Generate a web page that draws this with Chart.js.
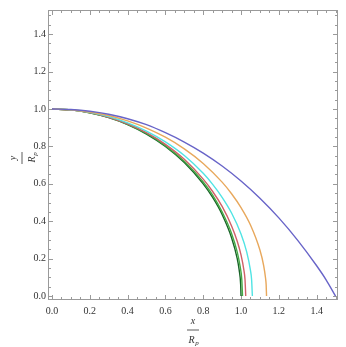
<!DOCTYPE html>
<html>
<head>
<meta charset="utf-8">
<script src="https://cdn.jsdelivr.net/npm/chart.js@4/dist/chart.umd.min.js"></script>
<style>
  html, body { margin: 0; padding: 0; background: #fff; }
</style>
</head>
<body>
<canvas id="shapeChart" width="346" height="347"></canvas>
<script>
// tick labels
const xTicks = [0, 0.2, 0.4, 0.6, 0.8, 1.0, 1.2, 1.4];
const yTicks = [0, 0.2, 0.4, 0.6, 0.8, 1.0, 1.2, 1.4];

// curves (x / Rp, y / Rp)
const xDarkGreen = [0, 0.1, 0.2, 0.3, 0.4, 0.5, 0.6, 0.7, 0.8, 0.85, 0.9, 0.95, 0.98, 0.99, 0.998, 1.0];
const yDarkGreen = [1, 0.995, 0.98, 0.954, 0.917, 0.866, 0.8, 0.714, 0.6, 0.527, 0.436, 0.312, 0.2, 0.141, 0.063, 0];

const xGreen = [0, 0.1, 0.2, 0.3, 0.4, 0.5, 0.6, 0.7, 0.8, 0.85, 0.9, 0.95, 0.98, 0.995, 1.004, 1.008];
const yGreen = [1, 0.995, 0.98, 0.955, 0.918, 0.869, 0.804, 0.72, 0.61, 0.54, 0.45, 0.335, 0.235, 0.16, 0.089, 0];

const xRed = [0, 0.1, 0.2, 0.3, 0.4, 0.5, 0.6, 0.7, 0.8, 0.85, 0.9, 0.95, 0.98, 1.0, 1.015, 1.021, 1.025];
const yRed = [1, 0.995, 0.981, 0.956, 0.921, 0.873, 0.811, 0.731, 0.625, 0.559, 0.479, 0.375, 0.293, 0.22, 0.14, 0.09, 0];

const xCyan = [0, 0.1, 0.2, 0.3, 0.4, 0.5, 0.6, 0.7, 0.8, 0.85, 0.9, 0.95, 1.0, 1.03, 1.05, 1.056, 1.06];
const yCyan = [1, 0.996, 0.982, 0.959, 0.926, 0.882, 0.824, 0.751, 0.656, 0.597, 0.528, 0.444, 0.332, 0.236, 0.137, 0.087, 0];

const xOrange = [0, 0.1, 0.2, 0.3, 0.4, 0.5, 0.6, 0.7, 0.8, 0.9, 0.95, 1.0, 1.05, 1.1, 1.12, 1.13, 1.133, 1.135];
const yOrange = [1, 0.996, 0.984, 0.965, 0.936, 0.898, 0.849, 0.787, 0.709, 0.609, 0.547, 0.473, 0.38, 0.246, 0.162, 0.094, 0.06, 0];

const xBlue = [0, 0.1, 0.2, 0.3, 0.4, 0.5, 0.6, 0.7, 0.8, 0.9, 1.0, 1.1, 1.2, 1.3, 1.4, 1.45, 1.5];
const yBlue = [1, 0.997, 0.988, 0.972, 0.948, 0.916, 0.873, 0.823, 0.764, 0.695, 0.615, 0.523, 0.418, 0.298, 0.162, 0.087, 0];

const toPoints = (xs, ys) => xs.map((v, i) => ({ x: v, y: ys[i] }));

const curve = (xs, ys, color) => ({
    data: toPoints(xs, ys),
    borderColor: color,
    borderWidth: 1.4,
    pointRadius: 0,
    showLine: true,
    fill: false,
    cubicInterpolationMode: 'monotone'
});

// frame with inward ticks on all four sides, like the original
const framePlugin = {
    id: 'frame',
    beforeDatasetsDraw(chart) {
        const { ctx, chartArea: a, scales: { x, y } } = chart;
        ctx.save();
        ctx.strokeStyle = '#9a9a9a';
        ctx.lineWidth = 1;
        ctx.strokeRect(a.left + 0.5, a.top + 0.5, a.right - a.left - 1, a.bottom - a.top - 1);
        ctx.beginPath();
        for (let k = 0; k <= 30; k++) {
            const v = k * 0.05;
            const len = k % 4 === 0 ? 5 : 3;
            const px = Math.round(x.getPixelForValue(v)) + 0.5;
            const py = Math.round(y.getPixelForValue(v)) + 0.5;
            if (px < a.right) {
                ctx.moveTo(px, a.bottom); ctx.lineTo(px, a.bottom - len);
                ctx.moveTo(px, a.top); ctx.lineTo(px, a.top + len);
            }
            if (py > a.top) {
                ctx.moveTo(a.left, py); ctx.lineTo(a.left + len, py);
                ctx.moveTo(a.right, py); ctx.lineTo(a.right - len, py);
            }
        }
        ctx.stroke();
        ctx.restore();
    }
};

// axis titles drawn as fractions: x / Rp and y / Rp
const fractionTitle = (ctx, num, cx, cy) => {
    ctx.font = 'italic 10px "Liberation Serif"';
    ctx.fillStyle = '#333';
    ctx.textAlign = 'center';
    ctx.textBaseline = 'middle';
    ctx.fillText(num, cx, cy - 9);
    ctx.strokeStyle = '#333';
    ctx.lineWidth = 0.8;
    ctx.beginPath();
    ctx.moveTo(cx - 6, cy);
    ctx.lineTo(cx + 6, cy);
    ctx.stroke();
    ctx.fillText('R', cx - 1.5, cy + 10);
    ctx.font = 'italic 7px "Liberation Serif"';
    ctx.fillText('p', cx + 4, cy + 13);
};

const titlePlugin = {
    id: 'titles',
    afterDraw(chart) {
        const { ctx, chartArea: a } = chart;
        ctx.save();
        fractionTitle(ctx, 'x', (a.left + a.right) / 2, 330);
        ctx.translate(22, 158);
        ctx.rotate(-Math.PI / 2);
        fractionTitle(ctx, 'y', 0, 0);
        ctx.restore();
    }
};

const tickFont = { family: '"Liberation Serif"', size: 10 };

new Chart(document.getElementById('shapeChart').getContext('2d'), {
    type: 'scatter',
    data: {
        datasets: [
            curve(xBlue, yBlue, 'rgb(104, 100, 200)'),
            curve(xOrange, yOrange, 'rgb(232, 168, 92)'),
            curve(xCyan, yCyan, 'rgb(80, 228, 228)'),
            curve(xRed, yRed, 'rgb(208, 96, 104)'),
            curve(xGreen, yGreen, 'rgb(70, 170, 70)'),
            curve(xDarkGreen, yDarkGreen, 'rgb(24, 100, 40)')
        ]
    },
    options: {
        responsive: false,
        animation: false,
        layout: { padding: { top: 10, right: 8, left: 0, bottom: 0 } },
        plugins: {
            legend: { display: false },
            tooltip: { enabled: false }
        },
        scales: {
            x: {
                type: 'linear',
                min: -0.021,
                max: 1.513,
                grid: { display: false, drawTicks: false },
                border: { display: false },
                afterBuildTicks: s => { s.ticks = xTicks.map(v => ({ value: v })); },
                afterFit: s => { s.height = 47; },
                ticks: {
                    padding: 5,
                    color: '#333',
                    font: tickFont,
                    maxRotation: 0,
                    callback: v => v.toFixed(1)
                }
            },
            y: {
                type: 'linear',
                min: -0.021,
                max: 1.529,
                grid: { display: false, drawTicks: false },
                border: { display: false },
                afterBuildTicks: s => { s.ticks = yTicks.map(v => ({ value: v })); },
                afterFit: s => { s.width = 48; },
                ticks: {
                    padding: 2,
                    color: '#333',
                    font: tickFont,
                    callback: v => v.toFixed(1)
                }
            }
        }
    },
    plugins: [framePlugin, titlePlugin]
});
</script>
</body>
</html>
